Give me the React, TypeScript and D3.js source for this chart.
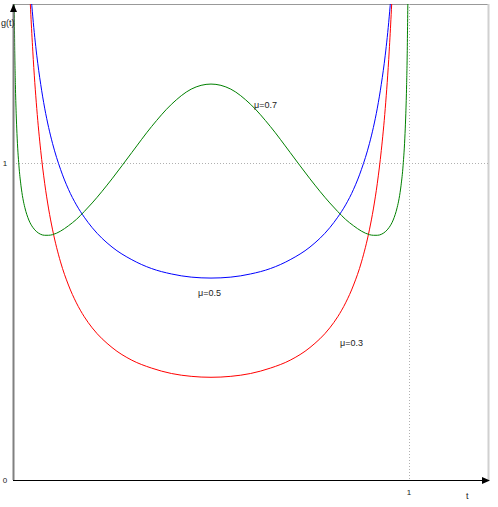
import React from "react";
import * as d3 from "d3";

const tValues = [0.001, 0.002, 0.004, 0.006, 0.008, 0.01, 0.015, 0.02, 0.025, 0.03, 0.04, 0.05, 0.06, 0.07, 0.08, 0.09, 0.10, 0.12, 0.14, 0.16, 0.18, 0.20, 0.25, 0.30, 0.35, 0.40, 0.45, 0.50,
  0.55, 0.60, 0.65, 0.70, 0.75, 0.80, 0.82, 0.84, 0.86, 0.88, 0.90, 0.91, 0.92, 0.93, 0.94, 0.95, 0.96, 0.97, 0.975, 0.98, 0.985, 0.99, 0.992, 0.994, 0.996, 0.998, 0.999];

const red03 = [30.0, 16.59, 9.793, 7.169, 5.736, 4.820, 3.507, 2.795, 2.342, 2.027, 1.614, 1.353, 1.172, 1.039, 0.936, 0.855, 0.789, 0.688, 0.615, 0.559, 0.515, 0.480, 0.418, 0.378, 0.353, 0.336, 0.327, 0.324,
  0.327, 0.336, 0.353, 0.378, 0.418, 0.480, 0.515, 0.559, 0.615, 0.688, 0.789, 0.855, 0.936, 1.039, 1.172, 1.353, 1.614, 2.027, 2.342, 2.795, 3.507, 4.820, 5.736, 7.169, 9.793, 16.59, 30.0];

const blue05 = [10.07, 7.125, 5.043, 4.122, 3.573, 3.199, 2.619, 2.274, 2.039, 1.866, 1.624, 1.461, 1.340, 1.248, 1.173, 1.112, 1.061, 0.980, 0.917, 0.868, 0.829, 0.796, 0.735, 0.695, 0.667, 0.650, 0.640, 0.637,
  0.640, 0.650, 0.667, 0.695, 0.735, 0.796, 0.829, 0.868, 0.917, 0.980, 1.061, 1.112, 1.173, 1.248, 1.340, 1.461, 1.624, 1.866, 2.039, 2.274, 2.619, 3.199, 3.573, 4.122, 5.043, 7.125, 10.07];

const green07 = [2.069, 1.693, 1.393, 1.247, 1.157, 1.093, 0.991, 0.930, 0.888, 0.859, 0.820, 0.797, 0.783, 0.775, 0.772, 0.772, 0.774, 0.785, 0.802, 0.822, 0.847, 0.874, 0.950, 1.033, 1.115, 1.185, 1.233, 1.249,
  1.233, 1.185, 1.115, 1.033, 0.950, 0.874, 0.847, 0.822, 0.802, 0.785, 0.774, 0.772, 0.772, 0.775, 0.783, 0.797, 0.820, 0.859, 0.888, 0.930, 0.991, 1.093, 1.157, 1.247, 1.393, 1.693, 2.069];

const seriesNames = ["μ=0.3", "μ=0.5", "μ=0.7"];
const yTicks = [0, 1];
const xTicks = [1];

export default function App() {
  const W = 498, H = 507;
  const x = d3.scaleLinear().domain([0, 1]).range([13, 409]);
  const y = d3.scaleLinear().domain([0, 1]).range([480, 163]);
  const left = 13, top = 4, right = 488, bottom = 480;

  const line = (vals: number[]) =>
    d3.line<number>()
      .x((_, i) => x(tValues[i]))
      .y((v) => y(v))
      .curve(d3.curveMonotoneX)(vals) || "";

  const series = [
    { name: seriesNames[0], vals: red03, color: "#ff0000", lx: 340, ly: 346 },
    { name: seriesNames[1], vals: blue05, color: "#0000ff", lx: 198, ly: 296 },
    { name: seriesNames[2], vals: green07, color: "#008000", lx: 254, ly: 108 },
  ];

  return (
    <svg width={W} height={H} style={{ position: "absolute", left: 0, top: 0, background: "#fff" }}
      fontFamily="'Liberation Sans', Arial, sans-serif">
      <defs>
        <clipPath id="plot">
          <rect x={left} y={top} width={right - left} height={bottom - top} />
        </clipPath>
      </defs>
      {/* frame */}
      <line x1={left} y1={top + 0.5} x2={right} y2={top + 0.5} stroke="#999" strokeWidth={1} />
      <line x1={right + 0.5} y1={top} x2={right + 0.5} y2={bottom} stroke="#d0d0d0" strokeWidth={2} />
      {/* grid dotted */}
      {yTicks.filter(v => v > 0).map(v => (
        <line key={"gy" + v} x1={left} x2={right} y1={y(v) + 0.5} y2={y(v) + 0.5} stroke="#b0b0b0" strokeDasharray="1,2" />
      ))}
      {xTicks.map(v => (
        <line key={"gx" + v} x1={x(v) + 0.5} x2={x(v) + 0.5} y1={top} y2={bottom} stroke="#b0b0b0" strokeDasharray="1,2" />
      ))}
      {/* curves */}
      <g clipPath="url(#plot)">
        {series.map(s => (
          <path key={s.name} d={line(s.vals)} fill="none" stroke={s.color} strokeWidth={1} />
        ))}
      </g>
      {/* axes */}
      <line x1={left + 0.5} y1={top} x2={left + 0.5} y2={bottom} stroke="#808080" strokeWidth={2} />
      <path d={`M${left + 0.5},${top} L${left - 3},${top + 8} L${left + 4},${top + 8} Z`} fill="#000" />
      <line x1={left} y1={bottom + 0.5} x2={right} y2={bottom + 0.5} stroke="#000" strokeWidth={1} />
      <path d={`M${right + 2},${bottom + 0.5} L${right - 6},${bottom - 3} L${right - 6},${bottom + 4} Z`} fill="#000" />
      {/* labels */}
      {yTicks.map(v => (
        <text key={"ty" + v} x={5} y={y(v) + 3} fontSize={8} textAnchor="middle" fill="#222">{v}</text>
      ))}
      {xTicks.map(v => (
        <text key={"tx" + v} x={x(v)} y={495} fontSize={8} textAnchor="middle" fill="#222">{v}</text>
      ))}
      <text x={1} y={26} fontSize={9} fill="#222">g(t)</text>
      <text x={466} y={499} fontSize={9} fill="#222">t</text>
      {series.map(s => (
        <text key={"l" + s.name} x={s.lx} y={s.ly} fontSize={9} fill="#222">{s.name}</text>
      ))}
    </svg>
  );
}
